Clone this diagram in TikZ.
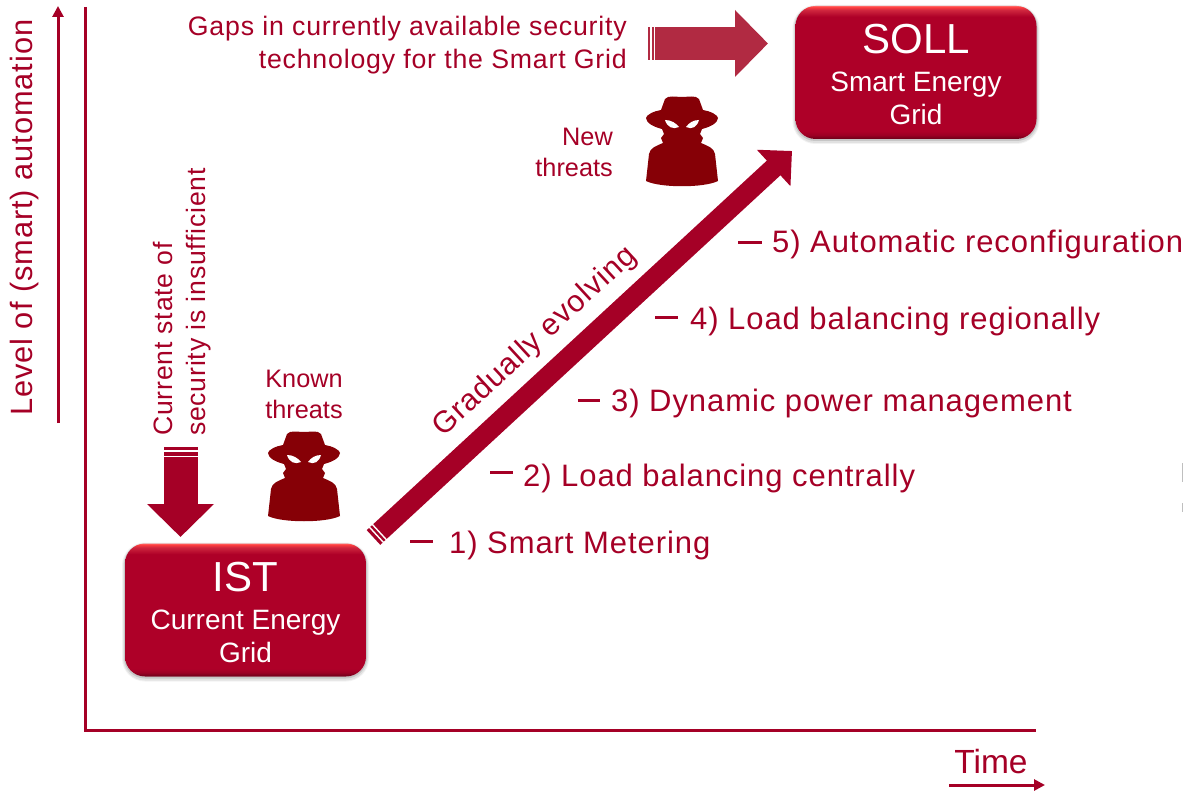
\documentclass[tikz,border=0pt]{standalone}
\usepackage{fontspec}
\setmainfont{Liberation Sans}
\newfontfamily\spc[LetterSpace=3]{Liberation Sans}
\usetikzlibrary{arrows.meta,calc}
\definecolor{rd}{HTML}{A50026}
\definecolor{boxc}{HTML}{AE0028}
\definecolor{spyc}{HTML}{860006}
\definecolor{gapc}{HTML}{B12A42}
\pgfdeclareverticalshading{boxshade}{100bp}{color(0bp)=(boxc!70!black);color(25bp)=(boxc!60!black);color(26.5bp)=(boxc!90!black);color(28bp)=(boxc);color(71bp)=(boxc);color(73.5bp)=(boxc!70!red!85!white);color(74.6bp)=(red!75!white);color(75bp)=(red!60!white);color(100bp)=(red!60!white)}
\newcommand{\fs}[1]{\fontsize{#1}{#1}\selectfont}
\tikzset{
  x=1pt,y=-1pt,
  boxn/.style={rounded corners=20pt,shading=boxshade,minimum width=241pt,minimum height=133pt,inner sep=0pt,text=white,align=center,
    preaction={draw=black,line width=6pt,opacity=.05,transform canvas={yshift=-2pt}},
    preaction={draw=black,line width=4pt,opacity=.07,transform canvas={yshift=-2pt}},
    preaction={draw=black,line width=2pt,opacity=.12,transform canvas={yshift=-1pt}}},
  lab/.style={text=rd,inner sep=0pt,font=\spc\fs{31}},
  tick/.style={draw=rd,line width=3pt},
  axis/.style={draw=rd,line width=3pt},
  thin arrow/.style={draw=rd,line width=3pt,-{Triangle[length=11pt,width=11pt]}},
  spy/.pic={
    \fill[spyc] (-17,3) .. controls (-14,-1) and (-6,1) .. (0,1) .. controls (6,1) and (14,-1) .. (17,3)
      -- (21,14) .. controls (28,15) and (36,19) .. (36,22) .. controls (36,27) and (28,31) .. (20,33)
      -- (18,38) -- (21,42) -- (19,47) .. controls (26,50) and (32,52) .. (33,58) -- (36,85)
      .. controls (22,92) and (-22,92) .. (-36,85) -- (-33,58) .. controls (-32,52) and (-26,50) .. (-19,47)
      -- (-21,42) -- (-18,38) -- (-20,33) .. controls (-28,31) and (-36,27) .. (-36,22) .. controls (-36,19) and (-28,15) .. (-21,14) -- cycle;
    \fill[white] (-17,24) .. controls (-11,24) and (-6,27) .. (-3,31) .. controls (-9,34) and (-15,31) .. (-17,24) -- cycle;
    \fill[white] (17,24) .. controls (11,24) and (7,27) .. (4,31) .. controls (10,34) and (15,31) .. (17,24) -- cycle;
  }
}
\begin{document}
\begin{tikzpicture}
\useasboundingbox (0,0) rectangle (1183,791);
% axes
\coordinate (org) at (85,730);
\coordinate (ytop) at (85,7);
\coordinate (xend) at (1036,730);
\draw[axis] (ytop) -- (org) -- (xend);
% axis captions
\coordinate (ya) at (58,423);
\coordinate (yb) at (58,6);
\draw[thin arrow] (ya) -- (yb);
\node[lab,rotate=90,anchor=west,font=\spc\fs{30.8}] (ylab) at (25,416) {Level of (smart) automation};
\coordinate (xa) at (949,785);
\coordinate (xb) at (1045,785);
\draw[thin arrow] (xa) -- (xb);
\node[lab,font=\fs{33.5}] (tlab) at (991,762) {Time};
% boxes
\node[boxn] (soll) at (916,72.5) {{\fs{42}\rule{0pt}{34pt}SOLL}\\[17pt]{\fs{28}Smart Energy}\\[6pt]{\fs{28}Grid}};
\node[boxn] (ist) at (245.5,610) {{\fs{42}\rule{0pt}{34pt}IST}\\[17pt]{\fs{28}Current Energy}\\[6pt]{\fs{28}Grid}};
% gaps arrow
\node[lab,anchor=east,align=right,font=\spc\fs{26.7}] (gaps) at (627,45) {Gaps in currently available security\\[6.5pt]technology for the Smart Grid};
\coordinate (ga) at (648,43.5);
\coordinate (gb) at (768,43.5);
\draw[gapc,line width=33pt,-{Triangle[length=33pt,width=65pt]}] (ga) -- (gb);
\draw[white,line width=1.4pt] (651,27) -- (651,60) (654.5,27) -- (654.5,60);
% down arrow
\coordinate (da) at (180.5,447);
\coordinate (db) at (180.5,537);
\draw[rd,line width=34pt,-{Triangle[length=33pt,width=65pt]}] (da) -- (db);
\draw[white,line width=1.6pt] (163,451) -- (198,451) (163,456.5) -- (198,456.5);
\node[lab,rotate=90,anchor=west,font=\spc\fs{26.6}] (cur1) at (163,436) {Current state of};
\node[lab,rotate=90,anchor=west,font=\spc\fs{26.6}] (cur2) at (199,436) {security is insufficient};
% threats
\path (304,431) pic {spy};
\node[lab,font=\fs{25.3},align=center] (known) at (304,394.5) {Known\\[5.5pt]threats};
\path (682,96) pic {spy};
\node[lab,font=\fs{25.3},align=right,anchor=east] (new) at (613,152.5) {New\\[5.5pt]threats};
% evolving arrow
\coordinate (ea) at (373.5,537.5);
\coordinate (eb) at (792,151);
\draw[rd,line width=20pt,-{Triangle[length=25pt,width=48pt]}] (ea) -- (eb);
\draw[white,line width=1.4pt] ($(ea)!4pt!(eb)+(-8,-8.7)$) -- ($(ea)!4pt!(eb)+(8,8.7)$);
\draw[white,line width=1.4pt] ($(ea)!8pt!(eb)+(-8,-8.7)$) -- ($(ea)!8pt!(eb)+(8,8.7)$);
\node[lab,rotate=42.7,font=\spc\fs{30.4}] (grad) at (535,342) {Gradually evolving};
% steps
\coordinate (t1a) at (410,541); \coordinate (t1b) at (433,541);
\coordinate (t2a) at (490,472); \coordinate (t2b) at (513,472);
\coordinate (t3a) at (578,400); \coordinate (t3b) at (600,400);
\coordinate (t4a) at (655,318); \coordinate (t4b) at (678,318);
\coordinate (t5a) at (738,243); \coordinate (t5b) at (762,243);
\draw[tick] (t1a) -- (t1b);
\draw[tick] (t2a) -- (t2b);
\draw[tick] (t3a) -- (t3b);
\draw[tick] (t4a) -- (t4b);
\draw[tick] (t5a) -- (t5b);
\node[lab,anchor=base west] (s1) at (449,553) {1) Smart Metering};
\node[lab,anchor=base west] (s2) at (523,486) {2) Load balancing centrally};
\node[lab,anchor=base west] (s3) at (611,411) {3) Dynamic power management};
\node[lab,anchor=base west] (s4) at (690,330) {4) Load balancing regionally};
\node[lab,anchor=base west] (s5) at (772,253) {5) Automatic reconfiguration};
% clipped remnants at the right edge
\draw[gray!50,line width=1pt] (1182.5,463) -- (1182.5,482) (1182.5,503) -- (1182.5,512);
\end{tikzpicture}
\end{document}
